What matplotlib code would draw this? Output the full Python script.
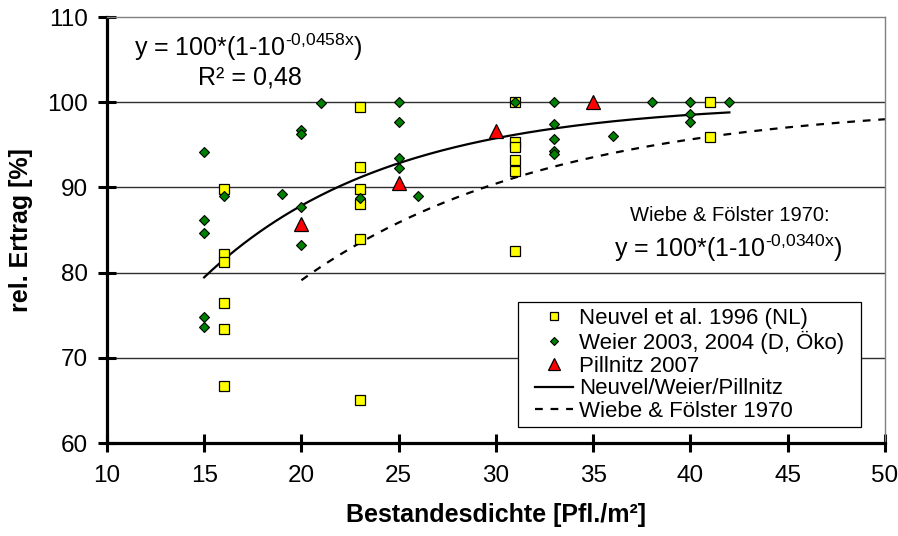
import numpy as np
import matplotlib
matplotlib.use("Agg")
import matplotlib.pyplot as plt
from matplotlib.patches import Rectangle

plt.rcParams['font.family'] = ['Liberation Sans', 'DejaVu Sans']
plt.rcParams['mathtext.fontset'] = 'custom'
plt.rcParams['mathtext.rm'] = 'Liberation Sans'

# Neuvel et al. 1996 (NL)
neuvel_x = [16, 16, 16, 16, 16, 16,
            23, 23, 23, 23, 23, 23,
            31, 31, 31, 31, 31, 31,
            41, 41]
neuvel_y = [89.8, 82.2, 81.3, 76.4, 73.4, 66.7,
            99.4, 92.4, 89.8, 88.0, 84.0, 65.0,
            100.0, 95.3, 94.7, 93.2, 91.9, 82.5,
            100.0, 95.9]

# Weier 2003, 2004 (D, Oeko)
weier_x = [15, 15, 15, 15, 15, 16, 19, 20, 20, 20, 20, 21, 23,
           25, 25, 25, 25, 26, 31, 33, 33, 33, 33, 33, 36, 38,
           40, 40, 40, 42]
weier_y = [94.2, 86.2, 84.6, 74.8, 73.6, 89.0, 89.2, 96.7, 96.3, 87.7, 83.2, 99.9, 88.8,
           100.0, 97.7, 93.5, 92.3, 89.0, 100.0, 100.0, 97.4, 95.7, 94.3, 93.9, 96.0, 100.0,
           100.0, 98.6, 97.7, 100.0]

# Pillnitz 2007
pill_x = [20, 25, 30, 35]
pill_y = [85.7, 90.5, 96.6, 100.0]

# Fitted curves y = 100*(1-10^(-k*x))
k_fit = 0.0458
fit_range = (15, 42)
k_wiebe = 0.0340
wiebe_range = (20, 50)

xf = np.linspace(fit_range[0], fit_range[1], 200)
yf = 100 * (1 - 10 ** (-k_fit * xf))
xw = np.linspace(wiebe_range[0], wiebe_range[1], 200)
yw = 100 * (1 - 10 ** (-k_wiebe * xw))

fig = plt.figure(figsize=(8.98, 5.36), dpi=100)
ax = fig.add_axes([0.119, 0.1735, 0.8665, 0.7947])

ax.set_xlim(10, 50)
ax.set_ylim(60, 110)
ax.set_xticks(np.arange(10, 51, 5))
ax.set_yticks(np.arange(60, 111, 10))

for yv in [70, 80, 90, 100]:
    ax.axhline(yv, color='#303030', lw=1.0, zorder=1)

ax.plot(xf, yf, color='black', lw=1.6, zorder=2, label='Neuvel/Weier/Pillnitz')
ax.plot(xw, yw, color='black', lw=1.6, ls=(0, (3.5, 3.5)), zorder=2,
        label='Wiebe & Fölster 1970')

ax.plot(neuvel_x, neuvel_y, ls='none', marker='s', ms=6.7, mfc='#ffff00',
        mec='black', mew=0.9, zorder=3, label='Neuvel et al. 1996 (NL)')
ax.plot(weier_x, weier_y, ls='none', marker='D', ms=4.6, mfc='#008000',
        mec='black', mew=0.8, zorder=4, label='Weier 2003, 2004 (D, Öko)')
ax.plot(pill_x, pill_y, ls='none', marker='^', ms=10, mfc='#ff0000',
        mec='black', mew=0.9, zorder=5, label='Pillnitz 2007')

for s in ['left', 'bottom']:
    ax.spines[s].set_linewidth(2.3)
    ax.spines[s].set_color('black')
for s in ['top', 'right']:
    ax.spines[s].set_linewidth(1.0)
    ax.spines[s].set_color('#808080')

ax.tick_params(direction='inout', length=13, width=2.2, labelsize=17.5, color='black')
ax.tick_params(axis='x', pad=9)
ax.tick_params(axis='y', pad=7)

ax.set_xlabel('Bestandesdichte [Pfl./m²]', fontsize=18, fontweight='bold', labelpad=12)
ax.set_ylabel('rel. Ertrag [%]', fontsize=18, fontweight='bold', labelpad=10)

fig.text(0.277, 0.8955, r'y = 100*(1-10$^{\text{-0,0458x}}$)',
         fontsize=18, ha='center', va='baseline')
fig.text(0.278, 0.843, 'R² = 0,48', fontsize=18, ha='center', va='baseline')
fig.text(0.813, 0.588, 'Wiebe & Fölster 1970:', fontsize=14.5, ha='center', va='baseline')
fig.text(0.811, 0.5205, r'y = 100*(1-10$^{\text{-0,0340x}}$)',
         fontsize=18, ha='center', va='baseline')

# legend box drawn separately so the padding matches
box = Rectangle((518 / 898, 1 - 427 / 536), (861 - 518) / 898, (427 - 302) / 536,
                transform=fig.transFigure, facecolor='white', edgecolor='black',
                lw=0.9, zorder=6, clip_on=False)
ax.add_patch(box)

handles, labels = ax.get_legend_handles_labels()
order = [2, 3, 4, 0, 1]
leg = ax.legend([handles[i] for i in order], [labels[i] for i in order],
                loc='upper left', bbox_to_anchor=(535 / 898, 1 - 308 / 536),
                bbox_transform=fig.transFigure, borderaxespad=0, borderpad=0,
                fontsize=16, frameon=False, labelspacing=0.08, handlelength=1.7,
                handletextpad=0.3, markerscale=0.8)
leg.set_zorder(7)

fig.savefig('out.png', dpi=100)
